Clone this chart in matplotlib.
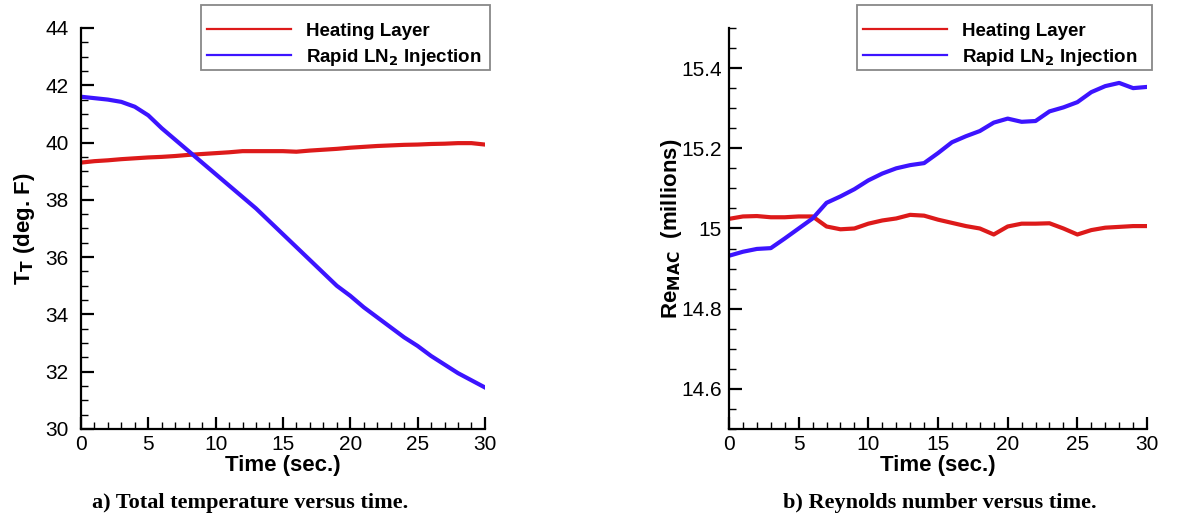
import numpy as np
import matplotlib.pyplot as plt
from matplotlib.lines import Line2D
from matplotlib.patches import Rectangle
from matplotlib.ticker import MultipleLocator

plt.rcParams["font.family"] = ["Liberation Sans", "DejaVu Sans"]

# time axis (sec.)
time = list(range(0, 31))

# a) total temperature (deg. F)
tt_heating = [39.30, 39.35, 39.38, 39.42, 39.45, 39.48, 39.50, 39.53, 39.57, 39.60,
              39.63, 39.66, 39.70, 39.70, 39.70, 39.70, 39.68, 39.72, 39.75, 39.78,
              39.82, 39.85, 39.88, 39.90, 39.92, 39.93, 39.95, 39.96, 39.98, 39.98,
              39.93]
tt_ln2 = [41.60, 41.55, 41.50, 41.42, 41.25, 40.95, 40.50, 40.10, 39.70, 39.30,
          38.90, 38.50, 38.10, 37.70, 37.25, 36.80, 36.35, 35.90, 35.45, 35.00,
          34.65, 34.25, 33.90, 33.55, 33.20, 32.90, 32.55, 32.25, 31.95, 31.70,
          31.45]

# b) Reynolds number (millions)
re_heating = [15.024, 15.030, 15.031, 15.028, 15.028, 15.030, 15.030, 15.005, 14.998, 15.000,
              15.012, 15.020, 15.025, 15.034, 15.032, 15.022, 15.014, 15.006, 15.000, 14.985,
              15.005, 15.012, 15.012, 15.013, 15.000, 14.985, 14.996, 15.002, 15.004, 15.006,
              15.006]
re_ln2 = [14.932, 14.942, 14.949, 14.951, 14.975, 15.000, 15.025, 15.064, 15.080, 15.098,
          15.120, 15.137, 15.150, 15.158, 15.163, 15.188, 15.215, 15.230, 15.243, 15.264,
          15.274, 15.266, 15.268, 15.292, 15.302, 15.315, 15.340, 15.355, 15.363, 15.350,
          15.353]

labels = ["Heating Layer", "Rapid LN$_\\mathbf{2}$ Injection"]
red, blue = "#dd1a1a", "#3c14ff"

W, H = 1190, 521
fig = plt.figure(figsize=(W / 100, H / 100), dpi=100)
ax1 = fig.add_axes([0.068, 0.1766, 0.3395, 0.7697])
ax2 = fig.add_axes([0.6126, 0.1766, 0.3513, 0.7697])


def style_axis(ax, ypad):
    for side in ["top", "right"]:
        ax.spines[side].set_visible(False)
    for side in ["left", "bottom"]:
        ax.spines[side].set_linewidth(1.6)
    ax.tick_params(which="major", direction="in", length=9, width=1.6, labelsize=15)
    ax.tick_params(axis="y", which="major", pad=ypad)
    ax.tick_params(axis="x", which="major", pad=4)
    ax.tick_params(which="minor", direction="in", length=5, width=1.0)
    ax.set_xlim(0, 30)
    ax.xaxis.set_major_locator(MultipleLocator(5))
    ax.xaxis.set_minor_locator(MultipleLocator(1))
    ax.set_xlabel("Time (sec.)", fontsize=16, fontweight="bold", labelpad=1)


ax1.plot(time, tt_heating, color=red, lw=3)
ax1.plot(time, tt_ln2, color=blue, lw=3)
style_axis(ax1, 9)
ax1.set_ylim(30, 44)
ax1.yaxis.set_major_locator(MultipleLocator(2))
ax1.yaxis.set_minor_locator(MultipleLocator(0.5))
ax1.set_ylabel("T$_\\mathbf{T}$ (deg. F)", fontsize=16, fontweight="bold", labelpad=6)

ax2.plot(time, re_heating, color=red, lw=3)
ax2.plot(time, re_ln2, color=blue, lw=3)
style_axis(ax2, 5)
ax2.set_ylim(14.5, 15.5)
ax2.set_yticks([14.6, 14.8, 15.0, 15.2, 15.4])
ax2.set_yticklabels(["14.6", "14.8", "15", "15.2", "15.4"])
ax2.yaxis.set_minor_locator(MultipleLocator(0.05))
ax2.set_ylabel("Re$_\\mathbf{MAC}$  (millions)", fontsize=16, fontweight="bold", labelpad=-2)

# legend boxes drawn by hand (x0, y0, x1, y1 in pixels from top-left), text centred lower
handles = [Line2D([], [], color=red, lw=1.6), Line2D([], [], color=blue, lw=1.6)]
for ax, box in [(ax1, (201, 5, 490, 70)), (ax2, (857, 5, 1152, 70))]:
    x0, y0, x1, y1 = box
    ax.add_patch(Rectangle((x0 / W, 1 - y1 / H), (x1 - x0) / W, (y1 - y0) / H,
                           transform=fig.transFigure, facecolor="white", clip_on=False,
                           edgecolor="#888888", linewidth=1.3, zorder=5))
    leg = ax.legend(handles, labels, loc="center left",
                    bbox_to_anchor=((x0 + 6) / W, 1 - 45 / H), bbox_transform=fig.transFigure,
                    prop={"weight": "bold", "size": 13.5}, frameon=False,
                    handlelength=4.5, handletextpad=0.8, borderpad=0, labelspacing=0.38,
                    borderaxespad=0)
    leg.set_zorder(6)

fig.text(250 / W, 1 - 503 / H, "a) Total temperature versus time.",
         family=["Liberation Serif"], fontweight="bold", fontsize=16, ha="center", va="center")
fig.text(940 / W, 1 - 503 / H, "b) Reynolds number versus time.",
         family=["Liberation Serif"], fontweight="bold", fontsize=16, ha="center", va="center")

fig.savefig("out.png", dpi=100)
